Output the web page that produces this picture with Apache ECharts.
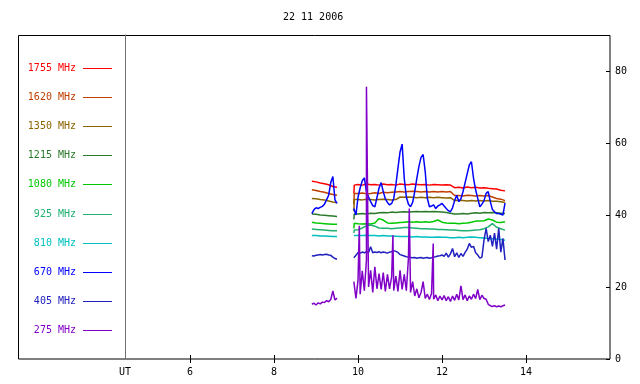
<!DOCTYPE html>
<html lang="en">
<head>
<meta charset="UTF-8">
<title>22 11 2006</title>
<script src="https://cdn.jsdelivr.net/npm/echarts@6.0.0/dist/echarts.min.js"></script>
</head>
<body style="margin:0">
<div id="main" style="width:640px;height:384px;"></div>
<script>
// Solar radio flux, 22 11 2006 (UT hours)
const names = ['1755 MHz', '1620 MHz', '1350 MHz', '1215 MHz', '1080 MHz',
               '925 MHz', '810 MHz', '670 MHz', '405 MHz', '275 MHz'];
const colors = ['#ff0000', '#c04000', '#8b6400', '#2a7a2a', '#00c800',
                '#20b070', '#00c0c0', '#0000ff', '#2020c0', '#8000c8'];
const xTicks = [6, 8, 10, 12, 14];
const yTicks = [0, 20, 40, 60, 80];

// coarse time grid (smooth channels)
const t1 = [8.9, 9.0, 9.1, 9.2, 9.3, 9.4, 9.5];
const t2 = [9.9, 9.91, 10.0, 10.1, 10.2, 10.3, 10.4, 10.5, 10.6, 10.7, 10.8, 10.9,
            11.0, 11.1, 11.2, 11.3, 11.4, 11.5, 11.6, 11.7, 11.8, 11.9,
            12.0, 12.1, 12.2, 12.3, 12.4, 12.5, 12.6, 12.7, 12.8, 12.9,
            13.0, 13.1, 13.2, 13.3, 13.4, 13.5];

const f1755a = [49.4, 49.2, 48.9, 48.7, 48.4, 47.9, 47.7];
const f1755b = [46.0, 48.3, 48.5,48.3,48.6,48.4,48.5,48.3,48.6,48.4,48.5,48.3,
  48.6,48.5,48.4,48.6,48.5,48.4,48.5,48.3,48.5,48.4,
  48.3,48.4,48.3,47.6,47.7,47.5,47.8,47.6,47.7,47.5,
  47.6,47.4,47.3,47.2,46.9,46.7];
const f1620a = [47.0, 46.8, 46.5, 46.3, 46.0, 45.7, 45.5];
const f1620b = [43.0, 46.0, 46.0,46.1,45.9,46.0,46.2,46.0,46.3,46.2,46.3,46.4,
  46.5,46.4,46.5,46.6,46.5,46.4,46.5,46.4,46.5,46.4,
  46.5,46.4,46.5,45.4,45.4,45.3,45.5,45.4,45.3,45.4,
  45.3,45.4,45.0,44.6,44.4,44.0];
const f1350a = [44.6, 44.5, 44.3, 44.2, 43.9, 43.6, 43.4];
const f1350b = [41.0, 44.3, 44.3,44.2,44.4,44.3,44.2,44.3,44.4,44.3,44.2,44.3,
  45.0,44.9,45.0,44.9,44.8,44.9,44.8,44.9,44.8,44.9,
  44.8,44.7,44.8,44.0,44.1,44.0,43.9,44.0,43.9,44.0,
  43.9,44.0,43.8,43.8,43.7,43.5];
const f1215a = [40.3, 40.2, 40.0, 39.9, 39.8, 39.7, 39.6];
const f1215b = [38.8, 40.3, 40.3,40.4,40.3,40.5,40.4,40.6,40.7,40.6,40.8,40.7,
  40.8,40.9,40.8,40.9,41.0,40.9,41.0,40.9,41.0,40.9,
  40.8,40.7,40.5,40.3,40.3,40.4,40.3,40.5,40.6,40.5,
  40.7,40.6,40.7,40.6,40.5,40.4];
const f1080a = [38.0, 37.8, 37.7, 37.6, 37.5, 37.4, 37.4];
const f1080b = [36.3, 37.7, 37.6,37.5,37.6,37.5,37.8,39.0,38.6,37.8,37.7,37.8,
  37.9,38.0,38.1,38.0,38.1,38.0,38.1,38.0,38.2,38.6,
  38.0,37.8,37.7,37.7,37.6,37.7,37.8,38.0,38.3,38.3,
  38.4,38.9,38.6,38.0,37.9,38.1];
const f925a = [36.1, 36.0, 35.9, 35.8, 35.7, 35.6, 35.6];
const f925b = [35.0, 35.8, 35.9,36.4,37.0,37.2,36.9,36.4,36.3,36.3,36.2,36.3,
  36.4,36.5,36.5,36.4,36.3,36.2,36.2,36.1,36.1,36.0,
  36.0,35.9,35.8,35.8,35.7,35.6,35.6,35.7,35.8,35.9,
  36.2,36.7,37.6,36.6,36.2,35.8];
const f810a = [34.3, 34.3, 34.2, 34.2, 34.1, 34.0, 34.0];
const f810b = [34.3, 34.3, 34.3,34.3,34.4,34.3,34.3,34.2,34.3,34.2,34.2,34.1,
  34.0,34.0,34.0,33.9,34.0,33.9,33.9,33.8,33.8,33.9,
  33.8,33.8,33.7,33.7,33.8,33.7,33.8,33.9,33.8,33.7,
  33.6,33.5,33.4,33.3,33.2,33.0];

// fine time grid (noisy channels), 3 min steps
const tf1 = [];
for (let k = 0; k <= 12; k++) tf1.push(+(8.9 + k * 0.05).toFixed(2));
const tf2 = [];
for (let k = 0; k <= 72; k++) tf2.push(+(9.9 + k * 0.05).toFixed(2));

const f670a = [40.4, 41.5, 42.0, 41.8, 42.1, 42.4, 43.0, 44.2, 45.5, 49.0, 50.7, 44.2, 43.2];
const f670b = [41.8, 40.0,
  45.0,47.5,49.5,50.3,46.5,45.0,43.7,42.6,42.3,44.8,47.5,49.0,46.5,44.5,43.5,42.8,43.2,44.6,48.3,53.0,
  57.5,59.7,50.2,45.0,43.0,42.3,43.5,46.5,50.2,53.5,56.0,56.8,52.0,44.6,42.3,42.5,42.8,41.8,42.5,42.8,
  43.2,42.5,41.8,41.2,40.9,42.0,44.0,45.5,43.7,44.5,46.5,49.0,51.5,53.9,54.8,50.2,47.0,44.6,42.3,43.0,
  44.0,46.0,46.5,43.7,41.5,40.9,40.4,40.4,40.2,40.0,43.3];
const f405a = [28.7, 28.6, 28.8, 28.9, 29.0, 28.9, 29.0, 29.1, 28.9, 28.8, 28.3, 27.9, 27.7];
const f405b = [28.1, 28.8,
  29.6,29.4,29.7,29.5,29.8,29.6,31.2,29.5,29.7,29.6,29.8,29.5,29.7,29.6,29.4,29.7,29.8,30.1,29.9,29.6,
  29.0,28.8,28.6,28.4,28.3,28.2,28.1,28.2,28.0,28.1,28.2,28.0,28.1,28.2,28.0,28.1,28.3,28.4,28.6,28.7,
  28.9,28.5,29.4,28.3,29.2,30.7,28.4,29.5,28.2,29.3,28.5,29.6,30.5,32.1,31.0,31.3,29.5,28.9,28.0,28.3,
  33.1,36.3,32.6,34.4,31.3,35.0,30.5,36.3,29.7,33.5,27.5];
const f275a = [15.2, 15.5, 15.0, 15.6, 15.3, 15.8, 15.7, 16.2, 15.9, 16.5, 18.9, 16.4, 16.9];
const f275b = [21.5, 16.8,
  22.0,18.0,24.5,19.0,27.5,20.0,24.6,18.5,25.6,19.5,23.7,19.3,24.0,18.8,23.5,19.5,22.8,19.0,23.0,18.8,
  24.6,19.3,23.5,19.0,28.0,18.5,21.5,17.5,19.5,17.0,18.5,21.5,16.8,18.0,16.5,18.2,16.6,17.8,16.2,17.5,
  16.4,17.6,16.2,17.3,16.0,17.5,16.3,18.0,16.4,20.3,16.5,17.8,16.2,17.5,16.6,18.0,16.8,19.3,16.5,17.7,
  16.8,16.6,15.2,14.8,14.6,14.8,14.5,14.7,14.5,14.8,15.0];
const spikeT = [10.03, 10.2, 10.83, 11.22, 11.79];
const spikeV = [37.0, 75.6, 34.4, 41.8, 32.1];

function pairs(ts, vs) { return ts.map((t, i) => [t, vs[i]]); }
function twoSeg(ta, va, tb, vb) {
  return pairs(ta, va).concat([[9.7, '-']], pairs(tb, vb));
}

const seriesData = [
  twoSeg(t1, f1755a, t2, f1755b),
  twoSeg(t1, f1620a, t2, f1620b),
  twoSeg(t1, f1350a, t2, f1350b),
  twoSeg(t1, f1215a, t2, f1215b),
  twoSeg(t1, f1080a, t2, f1080b),
  twoSeg(t1, f925a, t2, f925b),
  twoSeg(t1, f810a, t2, f810b),
  twoSeg(tf1, f670a, tf2, f670b),
  twoSeg(tf1, f405a, tf2, f405b),
  twoSeg(tf1, f275a, tf2, f275b.map(v => v))
];
// put the 275 MHz bursts in time order
const p275 = pairs(tf2, f275b).concat(pairs(spikeT, spikeV)).sort((a, b) => a[0] - b[0]);
seriesData[9] = pairs(tf1, f275a).concat([[9.7, '-']], p275);

const FONT = 'DejaVu Sans Mono';
const chart = echarts.init(document.getElementById('main'));

// left legend panel drawn as text + sample lines
const legendGraphics = [];
names.forEach((n, i) => {
  const y = Math.round(67.5 + i * 29.2) + 0.5;
  legendGraphics.push({
    type: 'text', left: null, x: 76, y: y,
    style: { text: n, fill: colors[i], font: '10px "' + FONT + '"',
             textAlign: 'right', textVerticalAlign: 'middle' }
  });
  legendGraphics.push({
    type: 'line', shape: { x1: 83, y1: y, x2: 112, y2: y },
    style: { stroke: colors[i], lineWidth: 1 }
  });
});

chart.setOption({
  animation: false,
  backgroundColor: '#ffffff',
  title: {
    text: '22 11 2006', left: 283, top: 12, padding: 0,
    textStyle: { fontFamily: FONT, fontSize: 10, fontWeight: 'normal', color: '#000' }
  },
  grid: { left: 125, right: 30, top: 35, bottom: 25 },
  xAxis: [{
    type: 'value', min: 4.45, max: 16, position: 'bottom',
    axisLine: { show: false },
    splitLine: { show: false },
    axisTick: { inside: true, length: 4, customValues: xTicks, lineStyle: { color: '#000' } },
    axisLabel: {
      customValues: [4.45].concat(xTicks), margin: 8,
      formatter: v => (v < 5 ? 'UT' : String(v)),
      fontFamily: FONT, fontSize: 10, color: '#000'
    }
  }, {
    type: 'value', min: 4.45, max: 16, position: 'top',
    axisLine: { show: false }, splitLine: { show: false },
    axisTick: { inside: true, length: 4, customValues: xTicks, lineStyle: { color: '#000' } },
    axisLabel: { show: false }
  }],
  yAxis: [{
    type: 'value', min: 0, max: 90, position: 'right',
    axisLine: { show: false }, splitLine: { show: false },
    axisTick: { inside: true, length: 4, customValues: yTicks, lineStyle: { color: '#000' } },
    axisLabel: { customValues: yTicks, margin: 5, fontFamily: FONT, fontSize: 10, color: '#000' }
  }, {
    type: 'value', min: 0, max: 90, position: 'left',
    axisLine: { show: true, lineStyle: { color: '#707070', width: 1 } },
    axisTick: { show: false }, axisLabel: { show: false }, splitLine: { show: false }
  }],
  series: names.map((n, i) => ({
    name: n, type: 'line', data: seriesData[i],
    showSymbol: false, symbol: 'none',
    lineStyle: { color: colors[i], width: 1.5 },
    itemStyle: { color: colors[i] },
    connectNulls: false
  })),
  graphic: [{
    type: 'rect', shape: { x: 18.5, y: 35.5, width: 591.5, height: 323.5 },
    style: { fill: 'none', stroke: '#000', lineWidth: 1 }, silent: true
  }].concat(legendGraphics)
});
</script>
</body>
</html>
